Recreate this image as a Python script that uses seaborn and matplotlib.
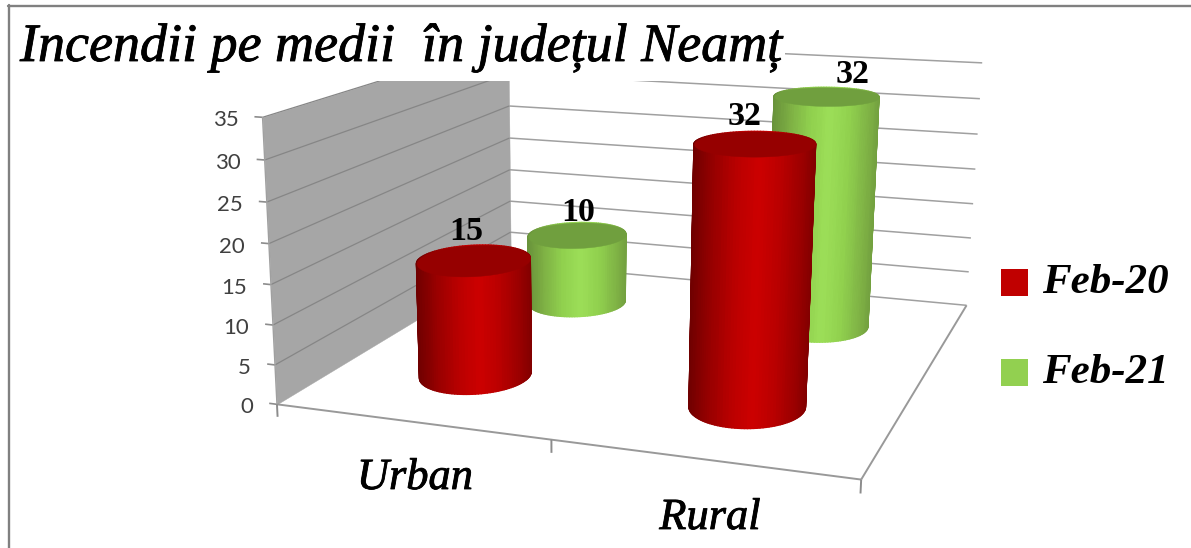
import numpy as np
import matplotlib
matplotlib.use("Agg")
import matplotlib.pyplot as plt
import matplotlib.patheffects as pe
import seaborn as sns
from matplotlib.legend_handler import HandlerPatch
from matplotlib.patches import Patch, Rectangle
from matplotlib.lines import Line2D
from mpl_toolkits.mplot3d import proj3d
from mpl_toolkits.mplot3d.art3d import Line3DCollection, Poly3DCollection

title = "Incendii pe medii  în județul Neamț"
categories = ["Urban", "Rural"]
series = ["Feb-20", "Feb-21"]
feb20 = [15, 32]
feb21 = [10, 32]
z_ticks = [0, 5, 10, 15, 20, 25, 30, 35]

sns.set_theme(style="white")
plt.rcParams["font.family"] = ["Liberation Serif", "DejaVu Sans"]
plt.rcParams["text.color"] = "black"

W, H = 1191, 548
fig = plt.figure(figsize=(W / 100, H / 100), dpi=100, facecolor="white")
# 3d axes insist on being square, so make it square and let it hang over the figure
over = (W - H) / 2
ax = fig.add_axes([0, -over / H, 1, W / H], projection="3d", computed_zorder=False)
ax.set_axis_off()
ax.patch.set_visible(False)

# camera: fit a projection to where the box corners sit in the picture
corners = [
    (0, 0, 0, 277, 403), (0, 0, 35, 262, 117),
    (2, 0, 0, 860, 481), (1, 0, 0, 553, 440),
    (2, 2, 0, 967, 304), (2, 2, 35, 982, 63),
    (0, 2, 0, 510, 264), (0, 2, 35, 509, 41),
]
rows = []
for X, Y, Z, u, v in corners:
    rows.append([X, Y, Z, 1, 0, 0, 0, 0, -u * X, -u * Y, -u * Z, -u])
    rows.append([0, 0, 0, 0, X, Y, Z, 1, -v * X, -v * Y, -v * Z, -v])
P = np.linalg.svd(np.array(rows, dtype=float))[2][-1].reshape(3, 4)
P = P / P[2, 3]
M = np.vstack([P[0], P[1], [-0.5, 1, 0, 0.1], P[2]])
ax.get_proj = lambda: M
ax.M = M
ax.viewLim.intervalx = (0, W)
ax.viewLim.intervaly = (H + over, -over)


def wall(xs, ys, zs, color, zorder):
    ax.add_collection3d(Poly3DCollection([list(zip(xs, ys, zs))], facecolors=color,
                                         edgecolors=color, linewidths=0.3, zorder=zorder))


def lines(segments, color, lw, zorder):
    ax.add_collection3d(Line3DCollection(segments, colors=color, linewidths=lw, zorder=zorder))


def label(text, x, y, z, dx, dy, **kw):
    # annotate in picture pixels, anchored on the projected 3d point
    px = proj3d.proj_transform(x, y, z, M)
    ax.annotate(text, xy=(px[0], px[1]), xytext=(dx, dy), textcoords="offset pixels",
                va="center", annotation_clip=False, **kw)


top_z = z_ticks[-1]
wall([0, 0, 0, 0], [0, 2, 2, 0], [0, 0, top_z, top_z], "#a6a6a6", 1)

lines([[(0, 0, z), (0, 2, z)] for z in z_ticks if z > 0], "#868686", 0.9, 2)
lines([[(0, 2, z), (2, 2, z)] for z in z_ticks], "#a0a0a0", 1.1, 1.5)
lines([[(-0.03, 0, z), (0, 0, z)] for z in z_ticks], "#8c8c8c", 1.2, 2)
for z in z_ticks:
    label(str(z), 0, 0, z, -24, -3, ha="right", fontsize=16, color="#404040",
          family="Lato", zorder=6)

lines([[(0, 0, 0), (2, 0, 0)], [(2, 0, 0), (2, 2, 0)]], "#999999", 1.4, 2)
lines([[(0, 0, 35), (0, 0, 0)]], "#a0a0a0", 1.0, 2)
lines([[(i, 0, 0), (i, 0, -1.6)] for i in range(3)], "#8c8c8c", 1.4, 2)

red_side = sns.blend_palette(["#cc0000", "#b80000", "#980000", "#6e0000"], 64)
green_side = sns.blend_palette(["#9cde58", "#90d04e", "#7fb245", "#68913a"], 64)
top_colors = ["#960000", "#709f3e"]
legend_colors = ["#c00000", "#92d050"]

rx, ry = 0.193, 0.22
label_dx = [[-7, 1], [-10, 26]]
label_dy = [[29, 22], [27, 22]]
t = np.linspace(0, 2 * np.pi, 121)


def cylinder(cx, cy, h, side, top, zorder):
    xc = cx + rx * np.cos(t)
    yc = cy + ry * np.sin(t)
    X = np.array([xc, xc])
    Y = np.array([yc, yc])
    Z = np.array([np.zeros_like(t), np.full_like(t, h)])
    sx = proj3d.proj_transform(xc, yc, np.full_like(t, h / 2), M)[0]
    s = 2 * (sx - sx.min()) / (sx.max() - sx.min()) - 1
    idx = np.clip(np.abs(s - 0.08) / 1.08 * 63, 0, 63).astype(int)
    idx = np.round((idx[:-1] + idx[1:]) / 2).astype(int)
    fc = np.array(side)[idx][None, :, :]
    ax.plot_surface(X, Y, Z, facecolors=fc, shade=False, rcount=2, ccount=len(t),
                    linewidth=1.0, antialiased=True, zorder=zorder)
    ax.add_collection3d(Poly3DCollection([list(zip(xc, yc, Z[1]))], facecolors=top,
                                         edgecolors=top, linewidths=0.3,
                                         zorder=zorder + 0.1))


sides = [red_side, green_side]
z_order = 3
for j, vals in reversed(list(enumerate([feb20, feb21]))):
    for i, v in enumerate(vals):
        cylinder(i + 0.5, j + 0.52, v, sides[j], top_colors[j], z_order)
        z_order += 1
for j, vals in enumerate([feb20, feb21]):
    for i, v in enumerate(vals):
        label(str(v), i + 0.5, j + 0.52, v, label_dx[i][j], label_dy[i][j], ha="center",
              fontsize=24.5, fontweight="bold", color="black", zorder=20)


def fx(x):
    return x / W


def fy(y):
    return 1 - y / H


# white box of the title sits over the top of the walls
fig.add_artist(Rectangle((fx(8), fy(81)), (785 - 8) / W, (81 - 8) / H, transform=fig.transFigure,
                         facecolor="white", edgecolor="none", zorder=2))
fig.add_artist(Line2D([fx(8.5), fx(8.5)], [fy(5), 0], color="#808080", lw=1.7, zorder=5))
fig.add_artist(Line2D([fx(8), 1], [fy(6.2), fy(6.2)], color="#808080", lw=1.7, zorder=5))

heavy = [pe.withStroke(linewidth=0.6, foreground="black")]
fig.text(fx(20), fy(61), title, fontsize=38.9, style="italic", color="black",
         ha="left", va="baseline", zorder=3, path_effects=heavy)
fig.text(fx(415), fy(478), categories[0], fontsize=32, style="italic",
         ha="center", va="center", zorder=3, path_effects=heavy)
fig.text(fx(710), fy(518), categories[1], fontsize=32, style="italic",
         ha="center", va="center", zorder=3, path_effects=heavy)

handles = [Patch(facecolor=c, edgecolor="none") for c in legend_colors]
leg = fig.legend(handles, series, loc="upper left", bbox_to_anchor=(fx(1001), fy(264)),
                 borderpad=0, borderaxespad=0, frameon=False, handlelength=0.62,
                 handleheight=0.227, handletextpad=0.33, labelspacing=1.21,
                 handler_map={Patch: HandlerPatch(ypad=-0.235)},
                 prop={"size": 31, "style": "italic", "weight": "bold", "family": "Liberation Serif"})

fig.savefig("out.png", dpi=100)
